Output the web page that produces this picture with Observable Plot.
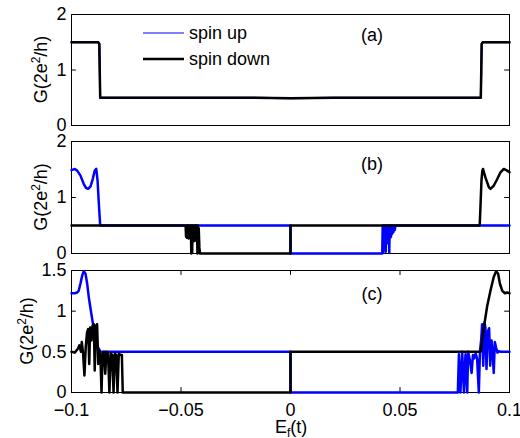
<!DOCTYPE html>
<html>
<head>
<meta charset="utf-8">
<script src="https://cdn.jsdelivr.net/npm/d3@7"></script>
<script src="https://cdn.jsdelivr.net/npm/@observablehq/plot@0.6"></script>
<style>
  html, body { margin: 0; padding: 0; background: #fff; }
  #chart svg { display: block; overflow: visible; }
</style>
</head>
<body>
<div id="chart"></div>
<script>
// ---------- data ----------
const xDomain = [-0.1, 0.1];
const xTicks = [-0.1, -0.05, 0, 0.05, 0.1];
const xInnerTicks = [-0.05, 0, 0.05];
const yTicksAB = [0, 1, 2];
const yTicksC = [0, 0.5, 1, 1.5];
const seriesNames = ["spin up", "spin down"];
const panelLabels = ["(a)", "(b)", "(c)"];
const yTitle = ["G(2e", "2", "/h)"];
const xTitle = ["E", "f", "(t)"];

// Panel (a): spin up and spin down coincide
const aX = [-0.1, -0.0878, -0.0873, -0.0869, -0.05, -0.02, 0, 0.02, 0.05, 0.0869, 0.0873, 0.0878, 0.1];
const aG = [1.5, 1.5, 1.47, 0.5, 0.5, 0.5, 0.49, 0.5, 0.5, 0.5, 1.47, 1.5, 1.5];

// Panel (b)
const bUpX = [-0.1, -0.0985, -0.0974, -0.0959, -0.0944, -0.0933, -0.0924, -0.0913, -0.0903, -0.0894, -0.0887, -0.0881, -0.0875, -0.0869, 0, 0, 0.0419,
  0.0421, 0.0423, 0.0425, 0.0427, 0.0429, 0.0431, 0.0433, 0.0435, 0.0437, 0.0439, 0.0441, 0.0443, 0.0445, 0.0447, 0.0449, 0.0451, 0.0453, 0.0455, 0.0457, 0.0459, 0.0461, 0.0464, 0.0467, 0.0470, 0.0473, 0.0476, 0.0479, 0.1];
const bUpG = [1.49, 1.51, 1.48, 1.39, 1.24, 1.17, 1.155, 1.2, 1.33, 1.48, 1.51, 1.3, 0.88, 0.5, 0.5, 0, 0,
  0.5, 0.02, 0.5, 0.15, 0.5, 0.16, 0.5, 0.03, 0.5, 0.18, 0.5, 0.2, 0.5, 0.26, 0.5, 0.02, 0.5, 0.28, 0.5, 0.3, 0.5, 0.35, 0.5, 0.38, 0.5, 0.42, 0.5, 0.5];
const bDownX = [-0.1, -0.0479,
  -0.0477, -0.0475, -0.0473, -0.0471, -0.0469, -0.0467, -0.0465, -0.0463, -0.0461, -0.0459, -0.0457, -0.0455, -0.0453, -0.0451, -0.0449, -0.0447, -0.0445, -0.0443, -0.0441, -0.0439, -0.0437, -0.0435, -0.0433, -0.0431, -0.0429, -0.0427, -0.0425, -0.0423, -0.0421, -0.0419, -0.0416, -0.0413,
  0, 0, 0.0864, 0.0868, 0.0872, 0.0876, 0.0879, 0.0884, 0.0890, 0.0906, 0.0913, 0.0928, 0.0944, 0.0959, 0.0974, 0.0989, 0.1];
const bDownG = [0.5, 0.5,
  0.3, 0.5, 0.28, 0.5, 0.3, 0.5, 0.27, 0.5, 0.3, 0.5, 0.28, 0.5, 0, 0.5, 0.02, 0.5, 0.25, 0.5, 0.22, 0.5, 0.25, 0.5, 0.23, 0.5, 0.3, 0.5, 0, 0.5, 0.02, 0.45, 0.1, 0,
  0, 0.5, 0.5, 0.9, 1.3, 1.48, 1.51, 1.44, 1.36, 1.18, 1.155, 1.21, 1.33, 1.45, 1.51, 1.48, 1.45];

// Panel (c)
const cUpX = [-0.1, -0.0985, -0.0974, -0.0967, -0.0959, -0.0951, -0.0944, -0.0936, -0.0928, -0.0921, -0.0913, -0.0906, -0.0898, -0.0890, -0.0880, -0.0868, 0, 0, 0.0764,
  0.0769, 0.0776, 0.0784, 0.0792, 0.0799, 0.0807, 0.0811, 0.0819, 0.0827, 0.0833, 0.0839, 0.0845, 0.0852, 0.0860, 0.0865, 0.0871, 0.0875, 0.0880, 0.0886, 0.0890, 0.0895, 0.0901, 0.0907, 0.0912, 0.0918, 0.0924, 0.0928, 0.0933, 0.0939, 0.0945, 0.0951, 0.0959, 0.1];
const cUpG = [1.22, 1.22, 1.23, 1.25, 1.34, 1.44, 1.49, 1.46, 1.33, 1.17, 1.03, 0.91, 0.78, 0.66, 0.56, 0.5, 0.5, 0, 0,
  0.47, 0, 0.5, 0, 0.47, 0, 0.5, 0.4, 0.24, 0.46, 0.42, 0.48, 0.42, 0, 0.5, 0.66, 0.84, 0.33, 0.86, 0.8, 0.29, 0.75, 0.79, 0.33, 0.64, 0.45, 0.24, 0.62, 0.55, 0.49, 0.51, 0.5, 0.5];
const cDownX = [-0.1, -0.0985,
  -0.0970, -0.0964, -0.0957, -0.0953, -0.0947, -0.0941, -0.0935, -0.0929, -0.0924, -0.0919, -0.0915, -0.0909, -0.0904, -0.0898, -0.0894, -0.0889, -0.0883, -0.0878, -0.0874, -0.0868, -0.0863, -0.0858, -0.0852, -0.0846, -0.0840, -0.0833, -0.0827, -0.0820, -0.0814, -0.0808, -0.0802, -0.0796, -0.0790, -0.0784, -0.0776, -0.0770, -0.0766,
  0, 0, 0.0868, 0.0883, 0.0898, 0.0913, 0.0928, 0.0939, 0.0948, 0.0956, 0.0967, 0.0979, 0.0989, 0.1];
const cDownG = [0.5, 0.49,
  0.54, 0.58, 0.5, 0.62, 0.48, 0.21, 0.56, 0.74, 0.78, 0.35, 0.8, 0.64, 0.82, 0.84, 0.27, 0.82, 0.84, 0.35, 0.52, 0.45, 0, 0.48, 0.5, 0.23, 0.5, 0.48, 0, 0.48, 0.46, 0, 0.48, 0.46, 0, 0.48, 0.46, 0.46, 0,
  0, 0.5, 0.5, 0.8, 1.06, 1.25, 1.42, 1.49, 1.46, 1.34, 1.25, 1.22, 1.23, 1.22];

// ---------- helpers ----------
const toRows = (xs, gs) => xs.map((x, i) => ({x, g: gs[i]}));
const FONT = "'Liberation Sans', Arial, Helvetica, sans-serif";
const BLUE = "#0000ff";
const TX = 0.0022; // tick length in x units
const fmt = d3.format("");

function panel({height, mt, mb, yDomain, yTicks, up, down, upWidth = 2.5, xAxis = false}) {
  const TY = (yDomain[1] - yDomain[0]) * 0.04;
  const marks = [
    Plot.frame({stroke: "black", strokeWidth: 1}),
    Plot.axisY({ticks: yTicks, anchor: "left", tickSize: 0, tickPadding: 5, tickFormat: fmt, label: null, fontSize: 18}),
    Plot.ruleY(yTicks, {y: d => d, x1: xDomain[0], x2: xDomain[0] + TX, stroke: "black"}),
    Plot.ruleY(yTicks, {y: d => d, x1: xDomain[1] - TX, x2: xDomain[1], stroke: "black"})
  ];
  if (xAxis) {
    marks.push(
      Plot.axisX({ticks: xTicks, anchor: "bottom", tickSize: 0, tickPadding: 11, tickFormat: fmt, label: null, fontSize: 18}),
      Plot.ruleX(xInnerTicks, {x: d => d, y1: yDomain[1], y2: yDomain[1] - TY, stroke: "black"}),
      Plot.ruleX(xInnerTicks, {x: d => d, y1: yDomain[0], y2: yDomain[0] + TY, stroke: "black"})
    );
  }
  marks.push(
    Plot.line(up, {x: "x", y: "g", stroke: BLUE, strokeWidth: upWidth}),
    Plot.line(down, {x: "x", y: "g", stroke: "black", strokeWidth: 2.5})
  );
  return Plot.plot({
    width: 520, height,
    marginLeft: 71, marginRight: 11, marginTop: mt, marginBottom: mb,
    x: {domain: xDomain, axis: xAxis ? undefined : null},
    y: {domain: yDomain},
    style: {fontFamily: FONT, fontSize: "18px", color: "black", background: "white", overflow: "visible"},
    marks
  });
}

function addYTitle(svg, x, y) {
  const t = d3.select(svg).append("text")
    .attr("transform", `translate(${x},${y}) rotate(-90)`)
    .attr("text-anchor", "middle")
    .attr("font-family", FONT).attr("font-size", 18).attr("fill", "black");
  t.append("tspan").text(yTitle[0]);
  t.append("tspan").attr("font-size", 12).attr("dy", -7).text(yTitle[1]);
  t.append("tspan").attr("dy", 7).text(yTitle[2]);
}
function addLabel(svg, text, x, y) {
  d3.select(svg).append("text").attr("x", x).attr("y", y)
    .attr("text-anchor", "middle").attr("font-family", FONT).attr("font-size", 18).attr("fill", "black")
    .text(text);
}

const chart = document.getElementById("chart");

// (a)
const svgA = panel({height: 133, mt: 14, mb: 8, yDomain: [0, 2], yTicks: yTicksAB, up: toRows(aX, aG), down: toRows(aX, aG), upWidth: 2});
addYTitle(svgA, 47, 69.5);
addLabel(svgA, panelLabels[0], 372, 41);
{
  const g = d3.select(svgA).append("g");
  g.append("line").attr("x1", 143).attr("x2", 184).attr("y1", 33).attr("y2", 33).attr("stroke", BLUE).attr("stroke-width", 1);
  g.append("line").attr("x1", 143).attr("x2", 184).attr("y1", 59).attr("y2", 59).attr("stroke", "black").attr("stroke-width", 2.5);
  g.append("text").attr("x", 189).attr("y", 39).attr("text-anchor", "start").attr("font-family", FONT).attr("font-size", 18).attr("fill", "black").text(seriesNames[0]);
  g.append("text").attr("x", 189).attr("y", 65).attr("text-anchor", "start").attr("font-family", FONT).attr("font-size", 18).attr("fill", "black").text(seriesNames[1]);
}
chart.appendChild(svgA);

// (b)
const svgB = panel({height: 128, mt: 8, mb: 8, yDomain: [0, 2], yTicks: yTicksAB, up: toRows(bUpX, bUpG), down: toRows(bDownX, bDownG)});
addYTitle(svgB, 47, 64);
addLabel(svgB, panelLabels[1], 372, 36.5);
chart.appendChild(svgB);

// (c)
const svgC = panel({height: 177, mt: 9, mb: 46, yDomain: [0, 1.5], yTicks: yTicksC, up: toRows(cUpX, cUpG), down: toRows(cDownX, cDownG), xAxis: true});
addYTitle(svgC, 33, 70);
addLabel(svgC, panelLabels[2], 372, 38.5);
{
  const t = d3.select(svgC).append("text").attr("x", 275).attr("y", 172).attr("text-anchor", "start")
    .attr("font-family", FONT).attr("font-size", 18).attr("fill", "black");
  t.append("tspan").text(xTitle[0]);
  t.append("tspan").attr("font-size", 12).attr("dy", 4).text(xTitle[1]);
  t.append("tspan").attr("dy", -4).text(xTitle[2]);
}
chart.appendChild(svgC);
</script>
</body>
</html>
